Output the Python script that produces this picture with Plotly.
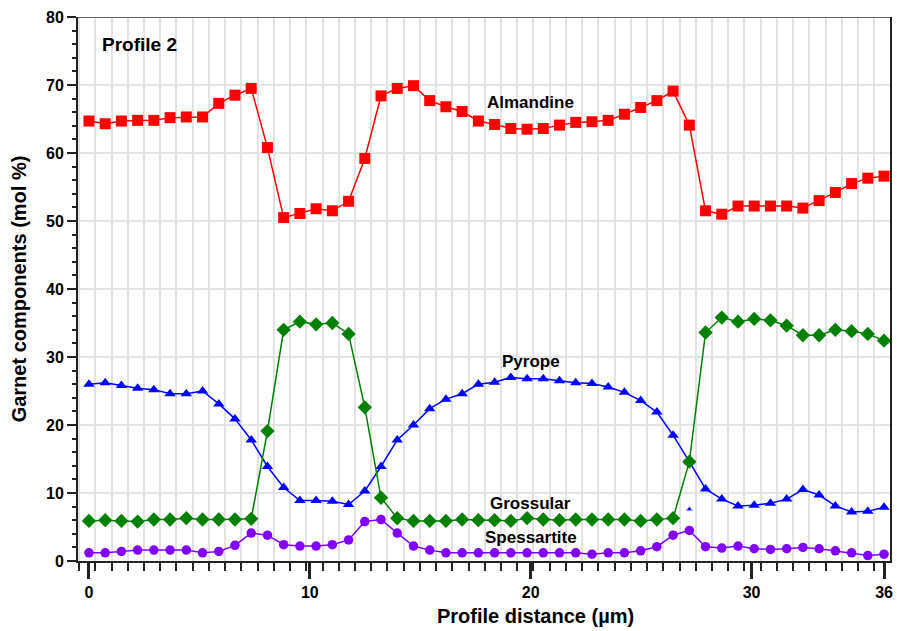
import plotly.graph_objects as go

distance_um = [0.0, 0.735, 1.469, 2.204, 2.939, 3.673, 4.408, 5.143, 5.878, 6.612,
               7.347, 8.082, 8.816, 9.551, 10.286, 11.020, 11.755, 12.490, 13.224, 13.959,
               14.694, 15.429, 16.163, 16.898, 17.633, 18.367, 19.102, 19.837, 20.571, 21.306,
               22.041, 22.776, 23.510, 24.245, 24.980, 25.714, 26.449, 27.184, 27.918, 28.653,
               29.388, 30.122, 30.857, 31.592, 32.327, 33.061, 33.796, 34.531, 35.265, 36.0]

almandine = [64.7, 64.3, 64.7, 64.8, 64.8, 65.2, 65.3, 65.3, 67.3, 68.5,
             69.5, 60.8, 50.5, 51.1, 51.8, 51.5, 52.9, 59.2, 68.4, 69.5,
             69.9, 67.7, 66.8, 66.1, 64.7, 64.2, 63.6, 63.5, 63.6, 64.1,
             64.5, 64.6, 64.8, 65.7, 66.7, 67.7, 69.1, 64.1, 51.5, 51.0,
             52.2, 52.2, 52.2, 52.2, 51.9, 53.0, 54.2, 55.5, 56.3, 56.6]

pyrope = [26.0, 26.2, 25.8, 25.4, 25.2, 24.6, 24.6, 25.0, 23.1, 20.9,
          17.8, 13.9, 10.8, 8.9, 8.9, 8.8, 8.3, 10.3, 13.9, 17.8,
          20.0, 22.4, 23.8, 24.6, 26.0, 26.3, 27.0, 26.8, 26.8, 26.5,
          26.2, 26.1, 25.6, 24.8, 23.6, 21.9, 18.5, 14.6, 10.6, 9.1,
          8.1, 8.2, 8.5, 9.1, 10.5, 9.7, 8.1, 7.2, 7.3, 7.9]

grossular = [5.9, 6.0, 5.9, 5.8, 6.1, 6.1, 6.3, 6.1, 6.1, 6.1,
             6.2, 19.1, 34.0, 35.2, 34.8, 35.0, 33.4, 22.6, 9.3, 6.3,
             5.9, 5.9, 5.9, 6.1, 6.0, 6.0, 5.9, 6.3, 6.1, 6.0,
             6.1, 6.1, 6.1, 6.1, 5.9, 6.1, 6.3, 14.6, 33.6, 35.8,
             35.2, 35.6, 35.4, 34.6, 33.2, 33.2, 34.0, 33.8, 33.4, 32.4]

spessartite = [1.2, 1.2, 1.4, 1.6, 1.6, 1.6, 1.6, 1.2, 1.4, 2.3,
               4.1, 3.8, 2.4, 2.2, 2.2, 2.4, 3.1, 5.8, 6.1, 4.1,
               2.2, 1.6, 1.2, 1.2, 1.2, 1.2, 1.2, 1.2, 1.2, 1.2,
               1.2, 1.0, 1.2, 1.2, 1.5, 2.1, 3.8, 4.5, 2.1, 1.9,
               2.2, 1.8, 1.7, 1.8, 2.0, 1.8, 1.5, 1.2, 0.8, 1.0]

stray_x = [27.184]
stray_y = [7.6]

x_tick_vals = [0, 10, 20, 30, 36]
y_tick_vals = [0, 10, 20, 30, 40, 50, 60, 70, 80]

series = [
    ("Almandine", almandine, "#ff0000", "square", 11),
    ("Pyrope", pyrope, "#0000ff", "triangle-up", 10),
    ("Grossular", grossular, "#008000", "diamond", 11),
    ("Spessartite", spessartite, "#8000ff", "circle", 9.5),
]

FONT = "Liberation Sans, Arial"

fig = go.Figure()
for name, vals, color, sym, size in series:
    fig.add_trace(go.Scatter(
        x=distance_um, y=vals, mode="lines+markers", name=name,
        line=dict(color=color, width=1.5),
        marker=dict(symbol=sym, size=size, color=color, line=dict(width=0)),
    ))

fig.add_trace(go.Scatter(
    x=stray_x, y=stray_y, mode="markers", name="",
    marker=dict(symbol="triangle-up", size=6, color="#0000ff",
                line=dict(width=1, color="#c8c8ff")),
))

labels = [
    ("Almandine", 20.0, 67.5),
    ("Pyrope", 20.0, 29.4),
    ("Grossular", 20.0, 8.5),
    ("Spessartite", 20.0, 3.5),
]
for txt, lx, ly in labels:
    fig.add_annotation(x=lx, y=ly, text=f"<b>{txt}</b>", showarrow=False,
                       font=dict(family=FONT, size=17, color="black"))

fig.add_annotation(x=2.3, y=75.9, text="<b>Profile 2</b>", showarrow=False,
                   font=dict(family=FONT, size=19, color="black"))

fig.add_annotation(xref="paper", yref="paper", x=0.563, y=-0.102, yanchor="middle",
                   text="<b>Profile distance (µm)</b>", showarrow=False,
                   font=dict(family=FONT, size=20, color="black"))

fig.add_shape(type="line", xref="paper", yref="y", x0=0, x1=1, y0=80, y1=80,
              line=dict(color="#666666", width=2))

fig.update_layout(
    width=897, height=631,
    margin=dict(l=78, r=4, t=17, b=70),
    plot_bgcolor="white", paper_bgcolor="white",
    showlegend=False,
    font=dict(family=FONT, color="black"),
)

fig.update_xaxes(
    range=[-0.496, 36.27],
    tickvals=x_tick_vals, ticktext=[f"<b>{v}</b>" for v in x_tick_vals],
    ticks="outside", ticklen=16, tickwidth=3, tickcolor="#222222",
    showgrid=False, zeroline=False,
    showline=True, linecolor="#222222", linewidth=2,
    tickfont=dict(size=16, family=FONT),
    minor=dict(tick0=0.29, dtick=36/49, ticks="outside", ticklen=8, tickwidth=1.5,
               tickcolor="#222222", showgrid=True, gridcolor="#e3e3e3", gridwidth=1.5),
)

fig.update_yaxes(
    range=[0, 80],
    tickvals=y_tick_vals, ticktext=[f"<b>{v}</b>" for v in y_tick_vals],
    ticks="outside", ticklen=9, tickwidth=2, tickcolor="#222222",
    showgrid=True, gridcolor="#e3e3e3", gridwidth=1.5,
    zeroline=False,
    showline=True, linecolor="#222222", linewidth=2, mirror=True,
    tickfont=dict(size=16, family=FONT),
    title=dict(text="<b>Garnet components (mol %)</b>", font=dict(size=20), standoff=14),
    minor=dict(tick0=0, dtick=2, ticks="outside", ticklen=4, tickwidth=1.5,
               tickcolor="#222222", showgrid=False),
)

fig.write_html("out.html")
